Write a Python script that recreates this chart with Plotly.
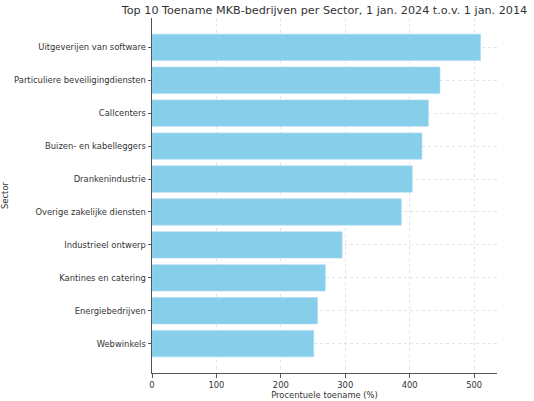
import plotly.graph_objects as go

sectors = [
    "Uitgeverijen van software",
    "Particuliere beveiligingdiensten",
    "Callcenters",
    "Buizen- en kabelleggers",
    "Drankenindustrie",
    "Overige zakelijke diensten",
    "Industrieel ontwerp",
    "Kantines en catering",
    "Energiebedrijven",
    "Webwinkels",
]
toename = [510, 447, 429, 419, 404, 387, 295, 269, 257, 251]
x_ticks = [0, 100, 200, 300, 400, 500]

text_color = "#333333"
axis_color = "#555555"

fig = go.Figure()
fig.add_trace(go.Bar(
    x=toename,
    y=sectors,
    orientation="h",
    marker=dict(color="#87CEEB", line=dict(color="#a9dcf1", width=0.6)),
    width=0.8,
))

fig.update_layout(
    width=534,
    height=401,
    autosize=False,
    margin=dict(l=152, r=37, t=18, b=28, pad=0, autoexpand=False),
    paper_bgcolor="white",
    plot_bgcolor="white",
    showlegend=False,
    font=dict(family="DejaVu Sans", color=text_color, size=8.4),
    title=dict(
        text="Top 10 Toename MKB-bedrijven per Sector, 1 jan. 2024 t.o.v. 1 jan. 2014",
        x=(152 + 497) / 2 / 534, xanchor="center",
        y=1 - 10 / 401, yanchor="middle", yref="container",
        font=dict(size=11.2, color=text_color),
        automargin=False,
    ),
)

fig.update_xaxes(
    automargin=False,
    range=[0, 535.5],
    tickvals=x_ticks,
    showline=True, linecolor=axis_color, linewidth=1,
    ticks="outside", ticklen=3.5, tickcolor=axis_color,
    showgrid=True, gridcolor="#e3e3e3", griddash="dot", gridwidth=0.6,
    zeroline=False,
    title=dict(text="Procentuele toename (%)", standoff=2, font=dict(size=8.4)),
)
fig.update_yaxes(
    automargin=False,
    type="category",
    categoryorder="array", categoryarray=sectors,
    range=[9.89, -0.89],
    showline=True, linecolor=axis_color, linewidth=1,
    ticks="outside", ticklen=3.5, tickcolor=axis_color,
    showgrid=True, gridcolor="#e3e3e3", griddash="dot", gridwidth=0.6,
    title=dict(text="Sector", standoff=4, font=dict(size=8.4)),
)

# the page body has a default 8px margin; drop it so the figure sits at 0,0
fig.write_html("out.html", config={"displayModeBar": False},
               post_script="document.body.style.margin='0';")
